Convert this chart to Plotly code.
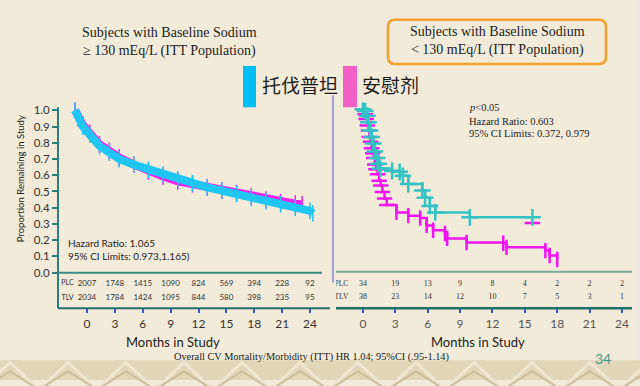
import plotly.graph_objects as go

# ---------------- data ----------------
months_ticks = [0, 3, 6, 9, 12, 15, 18, 21, 24]

# Left panel (baseline sodium >= 130) - Kaplan-Meier bands
tlv_left_t = [0, 0.3, 0.8, 1.5, 2.5, 3.5, 4.5, 6, 7.5, 9, 10.5, 12, 13.5, 15, 16.5, 18, 19.5, 21, 22.5, 24, 24.3]
tlv_left_s = [1.0, 0.95, 0.90, 0.85, 0.78, 0.74, 0.70, 0.665, 0.635, 0.605, 0.575, 0.55, 0.525, 0.505, 0.485, 0.46, 0.44, 0.42, 0.40, 0.38, 0.365]
plc_left_t = [0, 0.3, 0.8, 1.5, 2.5, 3.5, 4.5, 6, 7.5, 9, 10.5, 12, 13.5, 15, 16.5, 18, 19.5, 21, 22.5, 23.2]
plc_left_s = [1.0, 0.955, 0.91, 0.86, 0.79, 0.75, 0.71, 0.665, 0.624, 0.592, 0.563, 0.545, 0.525, 0.505, 0.49, 0.47, 0.45, 0.435, 0.425, 0.42]

# Right panel (baseline sodium < 130) - step curves
tlv_right_t = [0, 0.2, 0.4, 0.5, 0.65, 0.8, 0.95, 1.1, 1.3, 1.45, 1.6, 2.7, 3.4, 3.7, 4.2, 5.5, 5.75, 6.2, 6.7, 9.9, 15.7]
tlv_right_s = [1.0, 0.99, 0.96, 0.92, 0.87, 0.83, 0.79, 0.74, 0.70, 0.665, 0.635, 0.62, 0.615, 0.59, 0.54, 0.50, 0.455, 0.405, 0.365, 0.335, 0.335]
plc_right_t = [0, 0.2, 0.3, 0.4, 0.5, 0.6, 0.7, 0.8, 0.9, 1.0, 1.1, 1.2, 1.35, 1.5, 1.65, 1.8, 2.0, 2.2, 3.1, 4.2, 5.3, 5.9, 6.5, 7.6, 7.8, 9.6, 13.0, 13.3, 16.9, 17.3, 18.0]
plc_right_s = [1.0, 0.97, 0.94, 0.90, 0.87, 0.83, 0.80, 0.76, 0.73, 0.70, 0.66, 0.63, 0.60, 0.56, 0.53, 0.49, 0.45, 0.41, 0.365, 0.345, 0.33, 0.285, 0.255, 0.235, 0.205, 0.18, 0.175, 0.15, 0.13, 0.10, 0.075]
plc_right_extra_t = [15.7]
plc_right_extra_s = [0.30]

# Numbers at risk
left_plc_n = [2007, 1748, 1415, 1090, 824, 569, 394, 228, 92]
left_tlv_n = [2034, 1784, 1424, 1095, 844, 580, 398, 235, 95]
right_plc_n = [34, 19, 13, 9, 8, 4, 2, 2, 2]
right_tlv_n = [38, 23, 14, 12, 10, 7, 5, 3, 1]

y_ticks = [0.0, 0.1, 0.2, 0.3, 0.4, 0.5, 0.6, 0.7, 0.8, 0.9, 1.0]

# ---------------- helpers ----------------
W, H = 640, 386
DY = 4
def fx(p):
    return p / W
def fy(p):
    return 1 - (p + DY) / H

SERIF = "Liberation Serif"
SANS = "Lato"
CJK = "Noto Sans CJK SC"

C_CYAN = "#1FC6F2"
C_MAG = "#F022EE"
C_TEAL_R = "#35C2C4"
C_MAG_R = "#F014F0"

fig = go.Figure()

# Left KM bands
fig.add_trace(go.Scatter(x=plc_left_t, y=plc_left_s, mode="lines+markers", xaxis="x", yaxis="y",
                         line=dict(color=C_MAG, width=8),
                         marker=dict(symbol="line-ns", size=12, line=dict(color=C_MAG, width=1.5)),
                         showlegend=False, hoverinfo="skip"))
fig.add_trace(go.Scatter(x=tlv_left_t, y=tlv_left_s, mode="lines+markers", xaxis="x", yaxis="y",
                         line=dict(color=C_CYAN, width=8),
                         marker=dict(symbol="line-ns", size=12, line=dict(color=C_CYAN, width=1.5)),
                         showlegend=False, hoverinfo="skip"))

# Right KM step curves
plc_symbols = ["line-ew" if t <= 2.2 else "line-ns" for t in plc_right_t]
fig.add_trace(go.Scatter(x=plc_right_t, y=plc_right_s, mode="lines+markers", xaxis="x3", yaxis="y3",
                         line=dict(color=C_MAG_R, width=2.5, shape="hv"),
                         marker=dict(symbol=plc_symbols, size=11, line=dict(color=C_MAG_R, width=2.5)),
                         showlegend=False, hoverinfo="skip"))
fig.add_trace(go.Scatter(x=plc_right_extra_t, y=plc_right_extra_s, mode="markers", xaxis="x3", yaxis="y3",
                         marker=dict(symbol="line-ew", size=11, line=dict(color=C_MAG_R, width=2.5)),
                         showlegend=False, hoverinfo="skip"))
fig.add_trace(go.Scatter(x=tlv_right_t, y=tlv_right_s, mode="lines+markers", xaxis="x3", yaxis="y3",
                         line=dict(color=C_TEAL_R, width=2.5, shape="hv"),
                         marker=dict(symbol="cross-thin", size=12, line=dict(color=C_TEAL_R, width=2.5)),
                         showlegend=False, hoverinfo="skip"))

# Numbers-at-risk tables
def table_trace(xs, ys, vals, xa, ya, font, size):
    return go.Scatter(x=xs, y=ys, mode="text", text=[str(v) for v in vals], xaxis=xa, yaxis=ya,
                      textfont=dict(family=font, size=size, color="#333333"),
                      showlegend=False, hoverinfo="skip", textposition="middle center")

fig.add_trace(table_trace(months_ticks, [0.69] * 9, left_plc_n, "x2", "y2", SANS, 8))
fig.add_trace(table_trace(months_ticks, [0.28] * 9, left_tlv_n, "x2", "y2", SANS, 8))
fig.add_trace(table_trace([-2.1], [0.69], ["PLC"], "x2", "y2", SANS, 7))
fig.add_trace(table_trace([-2.1], [0.28], ["TLV"], "x2", "y2", SANS, 7))
fig.add_trace(table_trace(months_ticks, [0.66] * 9, right_plc_n, "x4", "y4", SERIF, 8))
fig.add_trace(table_trace(months_ticks, [0.30] * 9, right_tlv_n, "x4", "y4", SERIF, 8))
fig.add_trace(table_trace([-2.0], [0.66], ["PLC"], "x4", "y4", SERIF, 7.5))
fig.add_trace(table_trace([-2.0], [0.30], ["TLV"], "x4", "y4", SERIF, 7.5))

hidden = dict(visible=False, showgrid=False, zeroline=False)
def tick_axis(color):
    return dict(tickvals=months_ticks, ticktext=[str(m) for m in months_ticks], ticks="outside", ticklen=4,
                tickwidth=2, tickcolor="#3355CC", showline=False, showgrid=False, zeroline=False,
                tickfont=dict(family=SANS, size=12, color=color))

shapes = []
# background decorations
shapes.append(dict(type="rect", xref="paper", yref="paper", x0=fx(634), x1=1, y0=0, y1=1,
                   fillcolor="#ECE8DE", line=dict(width=0), layer="below"))
shapes.append(dict(type="rect", xref="paper", yref="paper", x0=0, x1=1, y0=0, y1=fy(362),
                   fillcolor="#E2D6B9", line=dict(width=0), layer="below"))
period = 58
def zigzag(top):
    pts = []
    k = -1
    while k * period / 2 <= W + period:
        xk = k * period / 2 + 10
        yk = top if k % 2 == 0 else 392
        pts.append(f"{fx(xk):.4f},{fy(yk):.4f}")
        k += 1
    return "M " + " L ".join(pts)
shapes.append(dict(type="path", xref="paper", yref="paper", path=zigzag(364),
                   line=dict(color="#EEE6D0", width=3), layer="below"))
shapes.append(dict(type="path", xref="paper", yref="paper", path=zigzag(373),
                   line=dict(color="#CDBD98", width=2), layer="below"))

def hline(x0, x1, y, color, w):
    shapes.append(dict(type="line", xref="paper", yref="paper", x0=fx(x0), x1=fx(x1), y0=fy(y), y1=fy(y),
                       line=dict(color=color, width=w)))
def vline(x, y0, y1, color, w):
    shapes.append(dict(type="line", xref="paper", yref="paper", x0=fx(x), x1=fx(x), y0=fy(y0), y1=fy(y1),
                       line=dict(color=color, width=w)))

vline(58, 105, 309, "#2E7D78", 2)
hline(58, 322, 273, "#3A8C80", 2)
hline(58, 330, 309, "#21706A", 2)
vline(333, 93, 283, "#9CA2D6", 2)
hline(336, 632, 272, "#7EAA98", 2)
hline(336, 632, 309, "#21706A", 2.5)

# orange rounded box
x0, x1, y0, y1, r = 388, 606, 16, 61, 7
path = (f"M {fx(x0 + r)},{fy(y0)} L {fx(x1 - r)},{fy(y0)} Q {fx(x1)},{fy(y0)} {fx(x1)},{fy(y0 + r)} "
        f"L {fx(x1)},{fy(y1 - r)} Q {fx(x1)},{fy(y1)} {fx(x1 - r)},{fy(y1)} "
        f"L {fx(x0 + r)},{fy(y1)} Q {fx(x0)},{fy(y1)} {fx(x0)},{fy(y1 - r)} "
        f"L {fx(x0)},{fy(y0 + r)} Q {fx(x0)},{fy(y0)} {fx(x0 + r)},{fy(y0)} Z")
shapes.append(dict(type="path", xref="paper", yref="paper", path=path, line=dict(color="#F2A02E", width=2.5)))

# legend swatches
shapes.append(dict(type="rect", xref="paper", yref="paper", x0=fx(243), x1=fx(256), y0=fy(105), y1=fy(63),
                   fillcolor="#00BFF2", line=dict(width=0)))
shapes.append(dict(type="rect", xref="paper", yref="paper", x0=fx(343), x1=fx(357), y0=fy(105), y1=fy(63),
                   fillcolor="#F262C6", line=dict(width=0)))

ann = []
def text(x, y, s, size, family, color="#222222", xanchor="center", **kw):
    ann.append(dict(x=fx(x), y=fy(y), xref="paper", yref="paper", text=s, showarrow=False,
                    xanchor=xanchor, yanchor="middle", font=dict(family=family, size=size, color=color), **kw))

text(169, 39, "Subjects with Baseline Sodium<br>≥ 130 mEq/L (ITT Population)", 14, SERIF)
text(497, 38, "Subjects with Baseline Sodium<br>&lt; 130 mEq/L (ITT Population)", 14, SERIF)
text(260, 82, "托伐普坦", 19, CJK, color="#1a1a1a", xanchor="left")
text(360, 82, "安慰剂", 19, CJK, color="#1a1a1a", xanchor="left")
text(467, 105, "<i>p</i>&lt;0.05", 10.5, SERIF, xanchor="left")
text(467, 119, "Hazard Ratio: 0.603", 10.5, SERIF, xanchor="left")
text(467, 132, "95% CI Limits: 0.372, 0.979", 10.5, SERIF, xanchor="left")
text(66, 243, "Hazard Ratio: 1.065", 10, SANS, xanchor="left")
text(66, 256, "95% CI Limits: 0.973,1.165)", 10, SANS, xanchor="left")
text(173, 343, "Months in Study", 13, SANS)
text(478, 343, "Months in Study", 13, SANS)
text(311, 359, "Overall CV Mortality/Morbidity (ITT) HR 1.04; 95%CI (.95-1.14)", 10.3, SERIF)
text(603, 360, "34", 14, SANS, color="#3E9A88")
text(20, 178, "Proportion Remaining in Study", 9.5, SANS, textangle=-90)

fig.update_layout(
    width=W, height=H, autosize=False,
    margin=dict(l=0, r=0, t=0, b=0),
    paper_bgcolor="#F2EBD9", plot_bgcolor="rgba(0,0,0,0)",
    showlegend=False,
    xaxis=dict(domain=[fx(58), fx(322)], range=[-1.74, 25.23], anchor="y", **hidden),
    yaxis=dict(domain=[fy(273), fy(100)], range=[0, 1.0485], anchor="x",
               tickvals=y_ticks, ticktext=[f"{v:.1f}" for v in y_ticks],
               ticks="outside", ticklen=5, tickwidth=1.5, tickcolor="#2E7D78",
               showline=False, showgrid=False, zeroline=False,
               tickfont=dict(family=SANS, size=11.5, color="#333333")),
    xaxis2=dict(domain=[fx(58), fx(322)], range=[-3.12, 25.29], anchor="y2", **tick_axis("#333333")),
    yaxis2=dict(domain=[fy(309), fy(273)], range=[0, 1], anchor="x2", **hidden),
    xaxis3=dict(domain=[fx(336), fx(632)], range=[-2.50, 24.93], anchor="y3", **hidden),
    yaxis3=dict(domain=[fy(272), fy(100)], range=[0, 1.0424], anchor="x3", **hidden),
    xaxis4=dict(domain=[fx(336), fx(632)], range=[-2.50, 24.93], anchor="y4", **tick_axis("#555555")),
    yaxis4=dict(domain=[fy(309), fy(272)], range=[0, 1], anchor="x4", **hidden),
    shapes=shapes,
    annotations=ann,
)

fig.write_html("out.html", config={"displayModeBar": False},
               post_script="document.body.style.margin='0';document.body.style.padding='0';")
